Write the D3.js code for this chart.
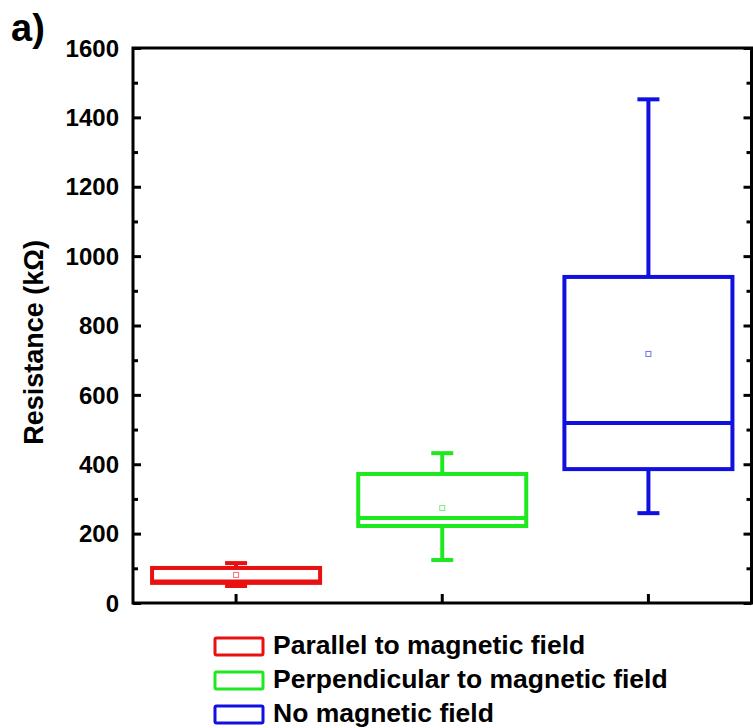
<!DOCTYPE html>
<html>
<head>
    <title>Resistance box plot</title>
    <script src="https://d3js.org/d3.v7.min.js"></script>
    <style type="text/css">
        body {
            margin: 0;
            background-color: #fff;
        }
        text {
            font-family: Arial, "Liberation Sans", sans-serif;
            font-weight: bold;
            fill: #000;
        }
    </style>
</head>
<body>

<div id="chart"></div>

<script type="text/javascript">
    const categories = ["Parallel to magnetic field", "Perpendicular to magnetic field", "No magnetic field"];
    const whiskerLow = [49, 124, 259];
    const q1 = [58, 222, 386];
    const median = [62, 245, 519];
    const q3 = [101, 372, 940];
    const whiskerHigh = [115, 432, 1452];
    const means = [81, 274, 718];
    const colors = ["#e81010", "#1ee81e", "#1010e0"];
    const yTicks = [0, 200, 400, 600, 800, 1000, 1200, 1400, 1600];

    const width = 753, height = 728;
    const plotLeft = 133, plotRight = 751.5, plotTop = 48, plotBottom = 603;

    const svg = d3.select("#chart").append("svg")
        .attr("width", width)
        .attr("height", height);

    const x = d3.scaleBand()
        .domain(categories)
        .range([plotLeft, plotRight])
        .padding(0);

    const y = d3.scaleLinear()
        .domain([0, 1600])
        .range([plotBottom, plotTop]);

    const boxW = x.bandwidth() * 0.815;
    const capW = 22;

    // boxes
    const boxes = svg.append("g")
        .selectAll("g")
        .data(categories)
        .join("g")
        .attr("transform", d => `translate(${x(d) + x.bandwidth() / 2},0)`);

    boxes.append("line")
        .attr("y1", (d, i) => y(q3[i]))
        .attr("y2", (d, i) => y(whiskerHigh[i]))
        .attr("stroke", (d, i) => colors[i])
        .attr("stroke-width", 4);

    boxes.append("line")
        .attr("y1", (d, i) => y(q1[i]))
        .attr("y2", (d, i) => y(whiskerLow[i]))
        .attr("stroke", (d, i) => colors[i])
        .attr("stroke-width", 4);

    boxes.append("line")
        .attr("x1", -capW / 2).attr("x2", capW / 2)
        .attr("y1", (d, i) => y(whiskerHigh[i]))
        .attr("y2", (d, i) => y(whiskerHigh[i]))
        .attr("stroke", (d, i) => colors[i])
        .attr("stroke-width", 4);

    boxes.append("line")
        .attr("x1", -capW / 2).attr("x2", capW / 2)
        .attr("y1", (d, i) => y(whiskerLow[i]))
        .attr("y2", (d, i) => y(whiskerLow[i]))
        .attr("stroke", (d, i) => colors[i])
        .attr("stroke-width", 4);

    boxes.append("rect")
        .attr("x", -boxW / 2)
        .attr("width", boxW)
        .attr("y", (d, i) => y(q3[i]))
        .attr("height", (d, i) => y(q1[i]) - y(q3[i]))
        .attr("fill", "none")
        .attr("stroke", (d, i) => colors[i])
        .attr("stroke-width", 4);

    boxes.append("line")
        .attr("x1", -boxW / 2).attr("x2", boxW / 2)
        .attr("y1", (d, i) => y(median[i]))
        .attr("y2", (d, i) => y(median[i]))
        .attr("stroke", (d, i) => colors[i])
        .attr("stroke-width", 4);

    boxes.append("rect")
        .attr("x", -2.5).attr("width", 5)
        .attr("y", (d, i) => y(means[i]) - 2.5)
        .attr("height", 5)
        .attr("fill", "none")
        .attr("stroke", (d, i) => colors[i])
        .attr("stroke-opacity", 0.6)
        .attr("stroke-width", 1);

    // axes with inward ticks
    const minor = d3.range(100, 1600, 200);

    svg.append("g")
        .attr("transform", `translate(${plotLeft},0)`)
        .call(d3.axisRight(y).tickValues(yTicks).tickSize(8).tickFormat(""))
        .call(g => g.select(".domain").remove())
        .selectAll("line").attr("stroke-width", 3);

    svg.append("g")
        .attr("transform", `translate(${plotLeft},0)`)
        .call(d3.axisRight(y).tickValues(minor).tickSize(5).tickFormat(""))
        .call(g => g.select(".domain").remove())
        .selectAll("line").attr("stroke-width", 3);

    svg.append("g")
        .attr("transform", `translate(${plotRight},0)`)
        .call(d3.axisLeft(y).tickValues(yTicks).tickSize(8).tickFormat(""))
        .call(g => g.select(".domain").remove())
        .selectAll("line").attr("stroke-width", 3);

    svg.append("g")
        .attr("transform", `translate(${plotRight},0)`)
        .call(d3.axisLeft(y).tickValues(minor).tickSize(5).tickFormat(""))
        .call(g => g.select(".domain").remove())
        .selectAll("line").attr("stroke-width", 3);

    svg.append("g")
        .attr("transform", `translate(0,${plotBottom})`)
        .call(d3.axisTop(x).tickSize(9).tickFormat(""))
        .call(g => g.select(".domain").remove())
        .selectAll("line").attr("stroke-width", 3);

    // tick labels
    svg.append("g")
        .selectAll("text")
        .data(yTicks)
        .join("text")
        .attr("x", 119)
        .attr("y", d => y(d))
        .attr("dy", "0.36em")
        .attr("text-anchor", "end")
        .attr("font-size", 24)
        .text(d => d);

    // frame
    svg.append("rect")
        .attr("x", plotLeft).attr("y", plotTop)
        .attr("width", plotRight - plotLeft).attr("height", plotBottom - plotTop)
        .attr("fill", "none")
        .attr("stroke", "#000")
        .attr("stroke-width", 3);

    // y title
    svg.append("text")
        .attr("transform", `translate(43,${(240 + 445) / 2}) rotate(-90)`)
        .attr("text-anchor", "middle")
        .attr("font-size", 27)
        .text("Resistance (k\u03A9)");

    svg.append("text")
        .attr("x", 11).attr("y", 41)
        .attr("font-size", 38)
        .text("a)");

    // legend
    const legend = svg.append("g")
        .selectAll("g")
        .data(categories)
        .join("g")
        .attr("transform", (d, i) => `translate(215,${646.5 + i * 34})`);

    legend.append("rect")
        .attr("x", 0).attr("y", -8.5)
        .attr("width", 48).attr("height", 17)
        .attr("rx", 1.5)
        .attr("fill", "none")
        .attr("stroke", (d, i) => colors[i])
        .attr("stroke-width", 3);

    legend.append("text")
        .attr("x", 58)
        .attr("dy", "0.3em")
        .attr("font-size", 26.5)
        .text(d => d);
</script>

</body>
</html>
